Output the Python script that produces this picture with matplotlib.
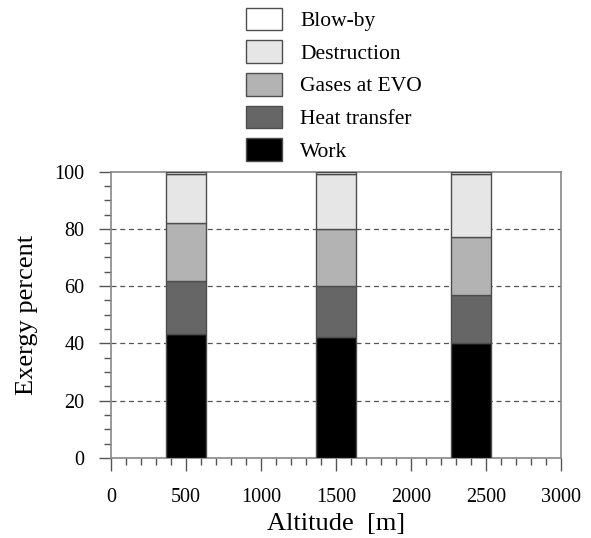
import matplotlib.pyplot as plt
from matplotlib.ticker import MultipleLocator
import numpy as np

altitude = [500, 1500, 2400]
work = [43.1, 42.3, 40.0]
heat_transfer = [18.7, 17.7, 16.9]
gases_evo = [20.2, 20.1, 20.4]
destruction = [17.2, 19.1, 21.9]
blow_by = [0.8, 0.8, 0.8]

labels = ["Work", "Heat transfer", "Gases at EVO", "Destruction", "Blow-by"]
colors = ["#000000", "#666666", "#b3b3b3", "#e6e6e6", "#ffffff"]

plt.rcParams["font.family"] = ["Liberation Serif", "DejaVu Serif"]

fig = plt.figure(figsize=(5.91, 5.38), dpi=100)
ax = fig.add_axes([0.188, 0.149, 0.761, 0.532])

bottom = np.zeros(len(altitude))
handles = []
for vals, lab, col in zip([work, heat_transfer, gases_evo, destruction, blow_by], labels, colors):
    b = ax.bar(altitude, vals, width=270, bottom=bottom, color=col,
               edgecolor="#4d4d4d", linewidth=1.0, label=lab, zorder=3)
    handles.append(b)
    bottom += np.array(vals)

for y in [20, 40, 60, 80]:
    ax.axhline(y, color="#555555", linestyle=(0, (4, 3)), linewidth=0.9, zorder=1)

ax.set_xlim(0, 3000)
ax.set_ylim(0, 100)
ax.xaxis.set_major_locator(MultipleLocator(500))
ax.xaxis.set_minor_locator(MultipleLocator(100))
ax.yaxis.set_major_locator(MultipleLocator(20))
ax.yaxis.set_minor_locator(MultipleLocator(5))
ax.tick_params(which="major", direction="out", length=9, width=1, color="#555555",
               labelsize=14.5, pad=10)
ax.tick_params(axis="x", which="major", pad=13)
ax.tick_params(which="minor", direction="out", length=5, width=1, color="#555555")
for s in ax.spines.values():
    s.set_color("#888888")
    s.set_linewidth(1.2)

ax.set_xlabel("Altitude  [m]", fontsize=19, labelpad=4)
ax.set_ylabel("Exergy percent", fontsize=19, labelpad=12)

fig.legend(handles[::-1], labels[::-1], loc="upper left",
           bbox_to_anchor=(0.39, 1.014), frameon=False, fontsize=15.5,
           handlelength=1.7, handleheight=1.25, labelspacing=0.42,
           handletextpad=0.85, borderpad=0.2)

fig.savefig("out.png", dpi=100)
